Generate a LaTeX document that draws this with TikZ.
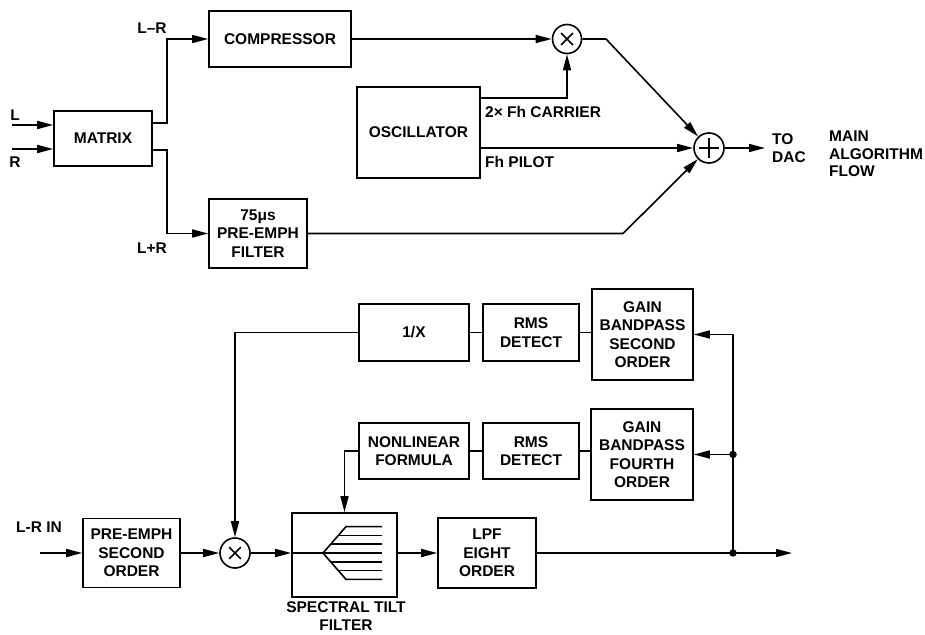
\documentclass[tikz,border=0pt]{standalone}
\usepackage{fontspec}
\usetikzlibrary{arrows.meta,calc}
\newfontfamily\hvfam{Liberation Sans}
\newcommand\figfont{\hvfam\bfseries\fontsize{15.5}{18.5}\selectfont}
\tikzset{
  blk/.style={draw, line width=1.6pt, inner sep=0pt, align=center, font=\figfont},
  arr/.style={-{Triangle[length=16pt,width=8pt]}, line width=1.6pt},
  ln/.style={line width=1.6pt},
  opc/.style={circle, draw, line width=1.6pt, minimum size=29pt, inner sep=0pt},
  lbl/.style={font=\figfont, inner sep=0pt, align=left},
  jdot/.style={circle, fill, minimum size=7.5pt, inner sep=0pt}
}
\begin{document}
\begin{tikzpicture}[x=1pt,y=-1pt]
\useasboundingbox (0,0) rectangle (925,634);
% ---------- top ----------
\node[blk, minimum width=98pt, minimum height=55pt] (matrix) at (103,138.5) {MATRIX};
\node[blk, minimum width=142pt, minimum height=56pt] (comp) at (280,39) {COMPRESSOR};
\node[blk, minimum width=98pt, minimum height=69pt] (pre) at (258,233.5) {75μs\\PRE-EMPH\\FILTER};
\node[blk, minimum width=123pt, minimum height=91pt] (osc) at (418.5,132.5) {OSCILLATOR};
\node[opc] (mul1) at (567,39) {};
\node[opc, minimum size=30pt] (sum) at (709,148) {};
\draw[ln] ($(mul1)!0.55!(mul1.45)$) -- ($(mul1)!0.55!(mul1.225)$);
\draw[ln] ($(mul1)!0.55!(mul1.135)$) -- ($(mul1)!0.55!(mul1.315)$);
\draw[ln] ($(sum)!0.62!(sum.north)$) -- ($(sum)!0.62!(sum.south)$);
\draw[ln] ($(sum)!0.62!(sum.west)$) -- ($(sum)!0.62!(sum.east)$);

\coordinate (Lin) at (12,125);
\coordinate (Rin) at (12,149);
\draw[arr] (Lin) -- (Lin -| matrix.west);
\draw[arr] (Rin) -- (Rin -| matrix.west);
\node[lbl] (tL) at (15,115) {L};
\node[lbl] (tR) at (15,162) {R};
\draw[arr] ([yshift=15.5pt]matrix.east) -- ++(14,0) |- (comp.west);
\draw[arr] ([yshift=-11.5pt]matrix.east) -- ++(14,0) |- (pre.west);
\node[lbl] (tLmR) at (152,28) {L–R};
\node[lbl] (tLpR) at (152,248) {L+R};

\draw[arr] (comp.east) -- (mul1.west);
\draw[arr] ([yshift=34.5pt]osc.east) -| (mul1.south);
\draw[arr] (osc.east |- sum) -- (sum.west);
\node[lbl, anchor=west] (tcar) at (485,112) {2× Fh CARRIER};
\node[lbl, anchor=west] (tpil) at (485,162) {Fh PILOT};
\coordinate (k1) at (606,39);
\draw[arr] (mul1.east) -- (k1) -- (sum);
\coordinate (k2) at (623,233.5);
\draw[arr] (pre.east) -- (k2) -- (sum);
\coordinate (dac) at (765,148);
\draw[arr] (sum.east) -- (dac);
\node[lbl, anchor=west] (tdac) at (772,148) {TO\\DAC};
\node[lbl, anchor=west, font=\hvfam\bfseries\fontsize{15.5}{17.5}\selectfont] (tmain) at (829,154) {MAIN\\ALGORITHM\\FLOW};

% ---------- bottom ----------
\node[blk, minimum width=110pt, minimum height=57pt] (inv) at (414,332.5) {1/X};
\node[blk, minimum width=96pt, minimum height=57pt] (rms1) at (531,332.5) {RMS\\DETECT};
\node[blk, minimum width=101pt, minimum height=91pt] (gain2) at (642.5,334.5) {GAIN\\BANDPASS\\SECOND\\ORDER};
\node[blk, minimum width=110pt, minimum height=56pt] (nonlin) at (414,451) {NONLINEAR\\FORMULA};
\node[blk, minimum width=96pt, minimum height=56pt] (rms2) at (531,451) {RMS\\DETECT};
\node[blk, minimum width=102pt, minimum height=91pt] (gain4) at (642,454.5) {GAIN\\BANDPASS\\FOURTH\\ORDER};
\node[blk, minimum width=97pt, minimum height=69pt] (pre2) at (131.5,553) {PRE-EMPH\\SECOND\\ORDER};
\node[opc, minimum size=30pt] (mul2) at (235,553) {};
\draw[ln] ($(mul2)!0.52!(mul2.45)$) -- ($(mul2)!0.52!(mul2.225)$);
\draw[ln] ($(mul2)!0.52!(mul2.135)$) -- ($(mul2)!0.52!(mul2.315)$);
\node[blk, minimum width=105pt, minimum height=84pt] (spec) at (344.5,555) {};
\node[blk, minimum width=98pt, minimum height=70pt] (lpf) at (487,553) {LPF\\EIGHT\\ORDER};
\node[lbl, align=center, anchor=north] (tspec) at (346,601) {SPECTRAL TILT\\FILTER};

% fan icon
\coordinate (apex) at (323,553);
\draw[ln] (spec.west |- apex) -- (apex) -- (382,553);
\draw[ln] (apex) -- (346,526.6) -- (382,526.6);
\draw[ln] (apex) -- (346,579.4) -- (382,579.4);
\foreach \k in {1,2} {
  \draw[ln] ({323+23*\k/3},{553-8.8*\k}) -- (382,{553-8.8*\k});
  \draw[ln] ({323+23*\k/3},{553+8.8*\k}) -- (382,{553+8.8*\k});
}

\coordinate (lrin) at (40,553);
\node[lbl] (tlrin) at (39,527) {L-R IN};
\draw[arr] (lrin) -- (pre2.west);
\draw[arr] (pre2.east) -- (mul2.west);
\draw[arr] (mul2.east) -- (mul2.east -| spec.west);
\draw[arr] (spec.east |- apex) -- (lpf.west);
\coordinate (jn) at (733,553);
\coordinate (outr) at (792,553);
\draw[arr] (lpf.east) -- (outr);
\node[jdot] (d1) at (jn) {};
\draw[arr] (jn) |- (gain2.east);
\node[jdot] (d2) at (jn |- gain4.east) {};
\draw[arr] (d2.center) -- (gain4.east);

\draw[ln] (gain2.west |- rms1.east) -- (rms1.east);
\draw[ln] (rms1.west) -- (inv.east);
\draw[ln] (gain4.west |- rms2.east) -- (rms2.east);
\draw[ln] (rms2.west) -- (nonlin.east);
\draw[arr] (inv.west) -| (mul2.north);
\draw[arr] (nonlin.west) -| (spec.north);
\end{tikzpicture}
\end{document}
